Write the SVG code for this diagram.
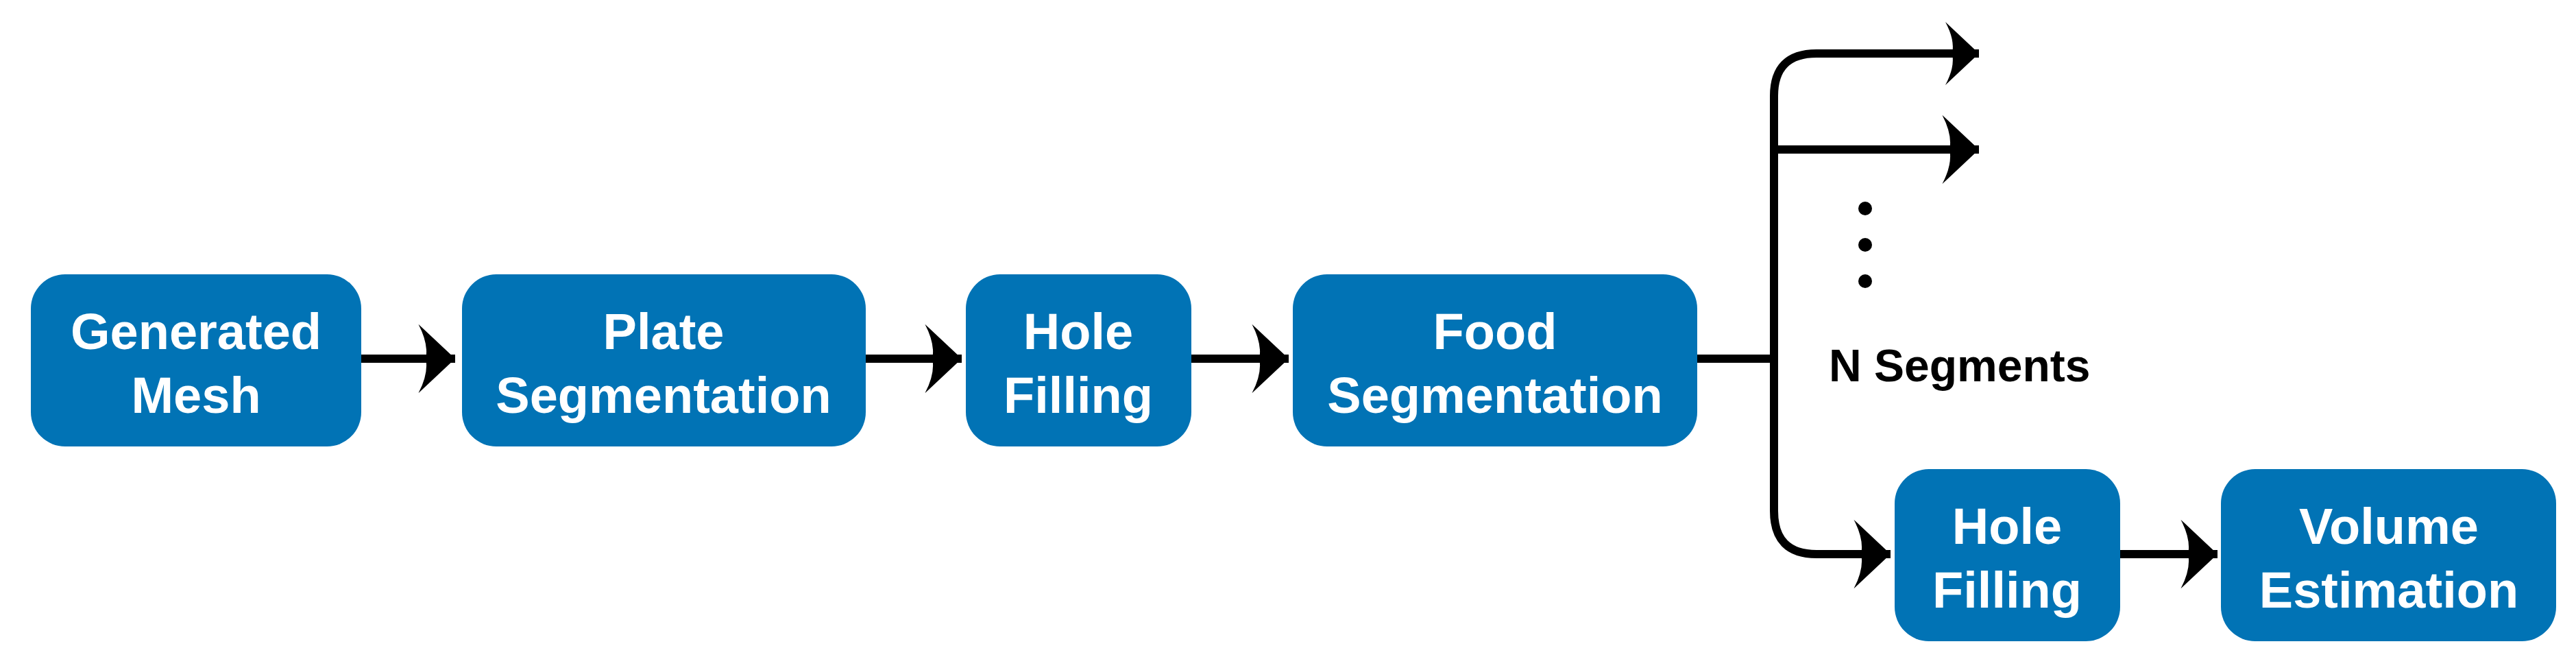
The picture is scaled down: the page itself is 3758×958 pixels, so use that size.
<svg xmlns="http://www.w3.org/2000/svg" width="3758" height="958" viewBox="0 0 3758 958">
<style>
.box{fill:#0173B5}
.t{font-family:"Liberation Sans",Arial,sans-serif;font-weight:bold;font-size:74px;fill:#fff;text-anchor:middle}
.l{font-family:"Liberation Sans",Arial,sans-serif;font-weight:bold;font-size:66px;fill:#000}
.c{fill:none;stroke:#000;stroke-width:12}
</style>
<defs>
<marker id="ah" markerUnits="userSpaceOnUse" markerWidth="60" markerHeight="110" viewBox="-52 -50 56 100" refX="0" refY="0" orient="auto">
<path d="M0,0 L-50,-47 Q-36,-20 -40,0 Q-36,20 -50,47 Z" fill="#000"/>
</marker>
</defs>
<g id="connectors">
<path class="c" d="M527,523 H664" marker-end="url(#ah)"/>
<path class="c" d="M1263,523 H1403" marker-end="url(#ah)"/>
<path class="c" d="M1738,523 H1880" marker-end="url(#ah)"/>
<path class="c" d="M2476,523 H2588"/>
<path class="c" d="M2887,78 H2650 Q2588,78 2588,140 V745 Q2588,808 2650,808 H2758" marker-end="url(#ah)" marker-start="none"/>
<path class="c" d="M2588,218 H2887" marker-end="url(#ah)"/>
<path class="c" d="M3093,808 H3235" marker-end="url(#ah)"/>
</g>
<g id="branch-top"><path d="M2887,78 L2838,32 Q2852,58 2848,78 Q2852,98 2838,124 Z" fill="#000"/></g>
<g id="dots" fill="#000"><circle cx="2721" cy="304" r="10"/><circle cx="2721" cy="357" r="10"/><circle cx="2721" cy="410" r="10"/></g>
<text class="l" x="2668" y="556">N Segments</text>
<g id="n1"><rect class="box" x="45" y="400" width="482" height="251" rx="50"/><text class="t" x="286" y="509">Generated</text><text class="t" x="286" y="602">Mesh</text></g>
<g id="n2"><rect class="box" x="674" y="400" width="589" height="251" rx="50"/><text class="t" x="968" y="509">Plate</text><text class="t" x="968" y="602">Segmentation</text></g>
<g id="n3"><rect class="box" x="1409" y="400" width="329" height="251" rx="50"/><text class="t" x="1573" y="509">Hole</text><text class="t" x="1573" y="602">Filling</text></g>
<g id="n4"><rect class="box" x="1886" y="400" width="590" height="251" rx="50"/><text class="t" x="2181" y="509">Food</text><text class="t" x="2181" y="602">Segmentation</text></g>
<g id="n5"><rect class="box" x="2764" y="684" width="329" height="251" rx="50"/><text class="t" x="2928" y="793">Hole</text><text class="t" x="2928" y="886">Filling</text></g>
<g id="n6"><rect class="box" x="3240" y="684" width="489" height="251" rx="50"/><text class="t" x="3485" y="793">Volume</text><text class="t" x="3485" y="886">Estimation</text></g>
</svg>
